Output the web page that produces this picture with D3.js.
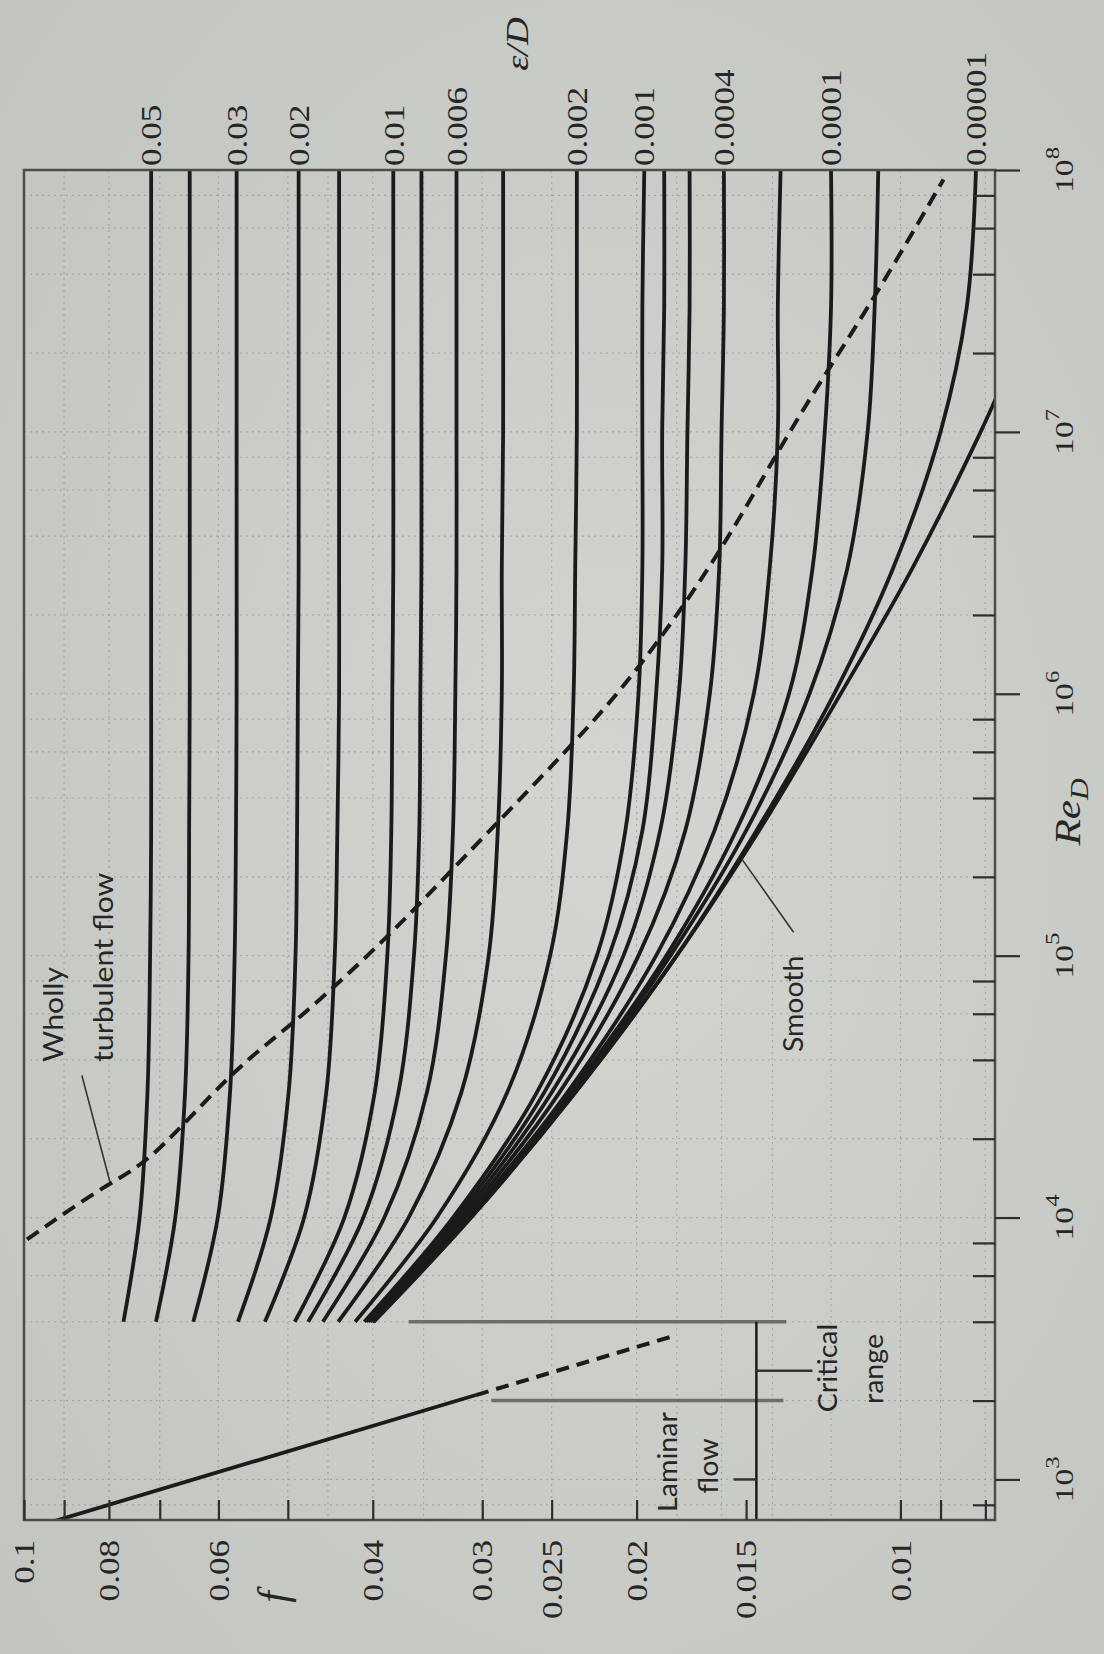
<!DOCTYPE html>
<html>
<head>
<meta charset="utf-8">
<script src="https://cdn.jsdelivr.net/npm/d3@7"></script>
<style>
html,body{margin:0;padding:0;background:#c9cbc6;}
svg{display:block;}
</style>
</head>
<body>
<svg id="chart"></svg>
<script>
var W=1104, H=1654;
var frameLeft=24, frameRight=995, frameTop=170, frameBottom=1520;

// Reynolds numbers at which the curves were read
var reGrid=[4e3,1e4,3e4,1e5,3e5,1e6,3e6,1e7,3e7,1e8];
// relative roughness of each curve (0 = smooth pipe)
var roughness=[0.05,0.04,0.03,0.02,0.015,0.01,0.008,0.006,0.004,0.002,0.001,0.0008,0.0006,0.0004,0.0002,0.0001,0.00005,0.00001,0];
// friction factor of each curve at reGrid
var frictionCurves=[
[0.0770,0.0738,0.0723,0.0718,0.0716,0.0716,0.0716,0.0716,0.0716,0.0716],
[0.0707,0.0672,0.0655,0.0649,0.0648,0.0647,0.0647,0.0647,0.0647,0.0647],
[0.0641,0.0601,0.0582,0.0575,0.0573,0.0572,0.0572,0.0572,0.0572,0.0572],
[0.0570,0.0523,0.0499,0.0490,0.0488,0.0487,0.0486,0.0486,0.0486,0.0486],
[0.0531,0.0479,0.0452,0.0442,0.0439,0.0437,0.0437,0.0437,0.0437,0.0437],
[0.0491,0.0431,0.0398,0.0385,0.0381,0.0380,0.0379,0.0379,0.0379,0.0379],
[0.0474,0.0410,0.0374,0.0359,0.0354,0.0353,0.0352,0.0352,0.0352,0.0352],
[0.0456,0.0388,0.0347,0.0330,0.0324,0.0322,0.0321,0.0321,0.0321,0.0321],
[0.0438,0.0364,0.0317,0.0295,0.0288,0.0285,0.0285,0.0284,0.0284,0.0284],
[0.0419,0.0338,0.0281,0.0251,0.0240,0.0236,0.0235,0.0234,0.0234,0.0234],
[0.0409,0.0324,0.0260,0.0222,0.0206,0.0199,0.0197,0.0197,0.0197,0.0196],
[0.0407,0.0321,0.0255,0.0215,0.0197,0.0190,0.0187,0.0187,0.0186,0.0186],
[0.0405,0.0318,0.0250,0.0207,0.0188,0.0179,0.0176,0.0175,0.0174,0.0174],
[0.0403,0.0315,0.0245,0.0199,0.0176,0.0165,0.0161,0.0160,0.0159,0.0159],
[0.0401,0.0312,0.0240,0.0190,0.0163,0.0147,0.0141,0.0138,0.0138,0.0137],
[0.0400,0.0310,0.0238,0.0185,0.0154,0.0134,0.0126,0.0122,0.0120,0.0120],
[0.0400,0.0310,0.0236,0.0183,0.0150,0.0127,0.0115,0.0109,0.0107,0.0106],
[0.0399,0.0309,0.0235,0.0180,0.0146,0.0119,0.0102,0.0090,0.0084,0.0082],
[0.0399,0.0309,0.0235,0.0180,0.0145,0.0117,0.0097,0.0081,0.0070,0.0059]
];
// "wholly turbulent flow" boundary
var turbF=[0.0992,0.0798,0.0718,0.0577,0.0488,0.0380,0.0322,0.0237,0.0201,0.0162,0.0136,0.0122,0.01056,0.00893];
var turbRe=[8260,13700,16200,37000,56000,122000,220000,634000,1.18e6,3.26e6,9.2e6,1.65e7,3.5e7,9.2e7];
// laminar line, solid then dashed
var laminarRe=[640,2100], laminarF=[0.1,0.0305];
var laminarDashRe=[2100,3500], laminarDashF=[0.0305,0.0183];
// critical range limits
var criticalRe=[2000,4000];
var criticalFrom=[0.0293,0.0364], criticalTo=[0.0136,0.0135];
// axes
var fTicks=[0.1,0.09,0.08,0.07,0.06,0.05,0.04,0.03,0.025,0.02,0.015,0.01,0.009,0.008];
var fLabelValues=[0.1,0.08,0.06,0.04,0.03,0.025,0.02,0.015,0.01];
var fLabels=["0.1","0.08","0.06","0.04","0.03","0.025","0.02","0.015","0.01"];
var reMajor=[1e3,1e4,1e5,1e6,1e7,1e8];
var reExponents=["3","4","5","6","7","8"];
var reMinor=[8e2,2e3,4e3,6e3,8e3,2e4,4e4,6e4,8e4,2e5,4e5,6e5,8e5,2e6,4e6,6e6,8e6,2e7,4e7,6e7,8e7];
var epsLabelValues=[0.05,0.03,0.02,0.01,0.006,0.002,0.001,0.0004,0.0001,0.00001];
var epsLabels=["0.05","0.03","0.02","0.01","0.006","0.002","0.001","0.0004","0.0001","0.00001"];
var gridF=[0.09,0.08,0.07,0.06,0.05,0.045,0.04,0.035,0.03,0.025,0.02,0.018,0.016,0.014,0.012,0.01,0.009,0.008];

var svg=d3.select("#chart").attr("width",W).attr("height",H);
var defs=svg.append("defs");
var grad=defs.append("radialGradient").attr("id","paper").attr("cx","55%").attr("cy","50%").attr("r","70%");
grad.append("stop").attr("offset","0%").attr("stop-color","#d3d5d0");
grad.append("stop").attr("offset","100%").attr("stop-color","#c3c5c0");
svg.append("rect").attr("width",W).attr("height",H).attr("fill","url(#paper)");
defs.append("clipPath").attr("id","frameclip").append("rect")
  .attr("x",frameLeft).attr("y",frameTop).attr("width",frameRight-frameLeft).attr("height",frameBottom-frameTop);

var x=d3.scaleLog().domain([0.1,0.0078]).range([frameLeft,frameRight]);
var y=d3.scaleLog().domain([700,1e8]).range([frameBottom,frameTop]);

var ink="#1b1b1b";
var plot=svg.append("g").attr("clip-path","url(#frameclip)");

// faint graph paper
plot.selectAll("line.gv").data(gridF).enter().append("line").attr("class","gv")
  .attr("x1",d=>x(d)).attr("x2",d=>x(d)).attr("y1",frameTop).attr("y2",frameBottom)
  .attr("stroke","#6a6b67").attr("stroke-opacity",0.35).attr("stroke-width",1.2).attr("stroke-dasharray","2,4");
plot.selectAll("line.gh").data(reMinor.concat(reMajor)).enter().append("line").attr("class","gh")
  .attr("y1",d=>y(d)).attr("y2",d=>y(d)).attr("x1",frameLeft).attr("x2",frameRight)
  .attr("stroke","#6a6b67").attr("stroke-opacity",0.35).attr("stroke-width",1.2).attr("stroke-dasharray","2,4");

var line=d3.line().x(d=>x(d.f)).y(d=>y(d.re)).curve(d3.curveCatmullRom.alpha(0.5));
function pts(reArr,fArr){return reArr.map((r,i)=>({re:r,f:fArr[i]}));}

// critical range
criticalRe.forEach(function(r,i){
  plot.append("line").attr("x1",x(criticalFrom[i])).attr("x2",x(criticalTo[i]))
    .attr("y1",y(r)).attr("y2",y(r)).attr("stroke","#6d6e6a").attr("stroke-width",3.5);
});

// friction curves
plot.selectAll("path.curve").data(frictionCurves).enter().append("path").attr("class","curve")
  .attr("d",d=>line(pts(reGrid,d))).attr("fill","none").attr("stroke",ink).attr("stroke-width",3.8);

// laminar
plot.append("path").attr("d",line.curve(d3.curveLinear)(pts(laminarRe,laminarF)))
  .attr("fill","none").attr("stroke",ink).attr("stroke-width",3.8);
plot.append("path").attr("d",line(pts(laminarDashRe,laminarDashF)))
  .attr("fill","none").attr("stroke",ink).attr("stroke-width",4).attr("stroke-dasharray","13,8");

// wholly turbulent boundary
plot.append("path").attr("d",line.curve(d3.curveBasis)(pts(turbRe,turbF)))
  .attr("fill","none").attr("stroke",ink).attr("stroke-width",4).attr("stroke-dasharray","14,8");

// bracket for laminar / critical
var bracketF=0.0146;
plot.append("line").attr("x1",x(bracketF)).attr("x2",x(bracketF)).attr("y1",y(4000)).attr("y2",frameBottom)
  .attr("stroke",ink).attr("stroke-width",2.5);
plot.append("line").attr("x1",x(bracketF)).attr("x2",x(0.0126)).attr("y1",y(2600)).attr("y2",y(2600))
  .attr("stroke","#333").attr("stroke-width",2.5);
plot.append("line").attr("x1",x(bracketF)).attr("x2",x(0.0155)).attr("y1",y(1000)).attr("y2",y(1000))
  .attr("stroke","#333").attr("stroke-width",2.5);

// leaders
plot.append("line").attr("x1",x(0.0859)).attr("y1",y(34900)).attr("x2",x(0.0798)).attr("y2",y(13700))
  .attr("stroke","#333").attr("stroke-width",1.6);
plot.append("line").attr("x1",x(0.01324)).attr("y1",y(122900)).attr("x2",x(0.01514)).attr("y2",y(231700))
  .attr("stroke","#333").attr("stroke-width",1.6);

// frame
svg.append("rect").attr("x",frameLeft).attr("y",frameTop).attr("width",frameRight-frameLeft).attr("height",frameBottom-frameTop)
  .attr("fill","none").attr("stroke","#4d4e4a").attr("stroke-width",2.5);

// axes ticks
var axMajor=svg.append("g").attr("transform","translate("+frameRight+",0)")
  .call(d3.axisRight(y).tickValues(reMajor).tickSize(25).tickFormat(""));
var axMinor=svg.append("g").attr("transform","translate("+frameRight+",0)")
  .call(d3.axisLeft(y).tickValues(reMinor).tickSize(22).tickFormat(""));
var axF=svg.append("g").attr("transform","translate(0,"+frameBottom+")")
  .call(d3.axisTop(x).tickValues(fTicks).tickSize(20).tickFormat(""));
[axMajor,axMinor,axF].forEach(function(a){
  a.select(".domain").remove();
  a.selectAll("line").attr("stroke","#2e2e2e").attr("stroke-width",2.2);
});

// rotated text helper (reads bottom to top)
function vtext(px,py,str,o){
  var t=svg.append("text")
    .attr("transform","translate("+px+","+py+") rotate(-90) scale("+(o.sx||1)+",1)")
    .attr("text-anchor",o.anchor||"middle")
    .attr("font-family",o.family||"Liberation Serif, serif")
    .attr("font-size",o.size)
    .attr("fill",o.fill||"#262626");
  if(o.italic) t.attr("font-style","italic");
  if(o.dy) t.attr("dy",o.dy);
  t.text(str);
  return t;
}

// f tick labels
fLabelValues.forEach(function(v,i){
  vtext(x(v),1540,fLabels[i],{size:30,sx:1.17,anchor:"end",dy:"0.34em"});
});
// roughness labels above the frame, at the top end of each labelled curve
epsLabelValues.forEach(function(v,i){
  var k=roughness.indexOf(v);
  var fTop=frictionCurves[k][frictionCurves[k].length-1];
  vtext(Math.min(x(fTop),988),166,epsLabels[i],{size:30,sx:1.17,anchor:"start",dy:"0.34em"});
});
// Re labels
reMajor.forEach(function(v,i){
  var t=vtext(1064,y(v),"",{size:26,sx:1.3,anchor:"middle",dy:"0.34em"});
  t.append("tspan").text("10");
  t.append("tspan").attr("font-size",19).attr("dy","-0.75em").text(reExponents[i]);
});

// axis titles
var reTitle=vtext(1080,812,"",{size:36,sx:1.2,italic:true});
reTitle.append("tspan").text("Re");
reTitle.append("tspan").attr("font-size",25).attr("dy","0.3em").text("D");
vtext(528,44,"ε/D",{size:32,sx:1.2,italic:true});
vtext(287,1597,"f",{size:42,italic:true});

// annotations
var sans="Lato, Open Sans, sans-serif";
vtext(63,1062,"Wholly",{size:27,sx:1.12,anchor:"start",family:sans});
vtext(113,1062,"turbulent flow",{size:27,sx:1.12,anchor:"start",family:sans});
vtext(803,1052,"Smooth",{size:27,sx:1.05,anchor:"start",family:sans});
vtext(677,1462,"Laminar",{size:26,sx:1.1,anchor:"middle",family:sans});
vtext(718,1466,"flow",{size:26,sx:1.1,anchor:"middle",family:sans});
vtext(837,1368,"Critical",{size:26,sx:1.1,anchor:"middle",family:sans});
vtext(883,1369,"range",{size:26,sx:1.1,anchor:"middle",family:sans});
</script>
</body>
</html>
